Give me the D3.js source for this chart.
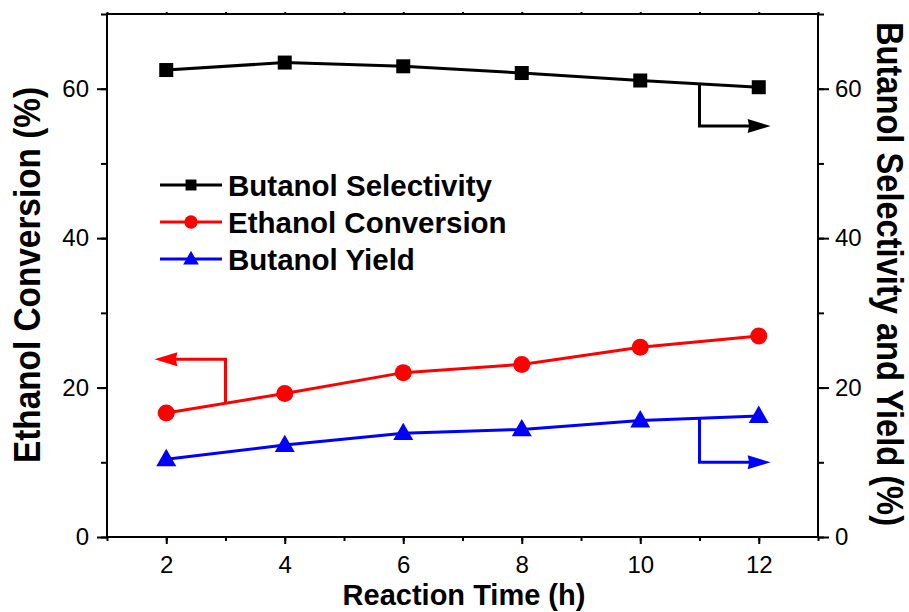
<!DOCTYPE html>
<html><head><meta charset="utf-8">
<script src="https://cdn.jsdelivr.net/npm/d3@7"></script>
<style>
html,body{margin:0;padding:0;background:#fff;}
svg text{font-family:"Liberation Sans",Arial,Helvetica,sans-serif;}
</style></head>
<body><svg id="c" width="909" height="612"></svg>
<script>
const hours = [2, 4, 6, 8, 10, 12];
const butanolSelectivity = [62.5, 63.5, 63.0, 62.1, 61.1, 60.2];
const ethanolConversion = [16.6, 19.2, 22.0, 23.1, 25.4, 26.9];
const butanolYield = [10.4, 12.3, 13.9, 14.4, 15.6, 16.2];
const xTicks = [2, 4, 6, 8, 10, 12];
const yTicks = [0, 20, 40, 60];
const seriesNames = ["Butanol Selectivity", "Ethanol Conversion", "Butanol Yield"];

const svg = d3.select("#c");
const L = 107, R = 818, T = 14, B = 537;
const x = d3.scaleLinear().domain([1, 13]).range([L, R]);
const y = d3.scaleLinear().domain([0, 70]).range([B, T]);

const series = [
  {name: seriesNames[0], vals: butanolSelectivity, color: "#000000", sym: "square", size: 14},
  {name: seriesNames[1], vals: ethanolConversion, color: "#ff0000", sym: "circle", size: 17},
  {name: seriesNames[2], vals: butanolYield, color: "#0000ff", sym: "triangle", size: 20}
];

function marker(g, type, cx, cy, s, color) {
  if (type === "square") {
    g.append("rect").attr("x", cx - s/2).attr("y", cy - s/2).attr("width", s).attr("height", s).attr("fill", color);
  } else if (type === "circle") {
    g.append("circle").attr("cx", cx).attr("cy", cy).attr("r", s/2).attr("fill", color);
  } else {
    const h = s * 0.87;
    g.append("path").attr("d", `M${cx},${cy - h*0.6}L${cx + s/2},${cy + h*0.4}L${cx - s/2},${cy + h*0.4}Z`).attr("fill", color);
  }
}

// Axes
const axStyle = g => {
  g.attr("font-size", null).attr("font-family", null);
  g.select(".domain").remove();
  g.selectAll(".tick line").attr("stroke", "#000").attr("stroke-width", 2);
  g.selectAll(".tick text").style("font-size", "24px").attr("fill", "#000");
};
// bottom minor
svg.append("g").attr("transform", `translate(0,${B})`)
  .call(d3.axisBottom(x).tickValues(d3.range(1, 14, 1)).tickSize(4).tickFormat(""))
  .call(axStyle);
svg.append("g").attr("transform", `translate(0,${B})`)
  .call(d3.axisBottom(x).tickValues(xTicks).tickSize(7).tickPadding(12))
  .call(axStyle);
// top ticks
svg.append("g").attr("transform", `translate(0,${T})`)
  .call(d3.axisTop(x).tickValues(d3.range(1, 14, 1)).tickSize(2).tickFormat(""))
  .call(axStyle);
// left
svg.append("g").attr("transform", `translate(${L},0)`)
  .call(d3.axisLeft(y).tickValues(d3.range(0, 71, 10)).tickSize(6).tickFormat(""))
  .call(axStyle);
svg.append("g").attr("transform", `translate(${L},0)`)
  .call(d3.axisLeft(y).tickValues(yTicks).tickSize(10).tickPadding(8))
  .call(axStyle);
// right
svg.append("g").attr("transform", `translate(${R},0)`)
  .call(d3.axisRight(y).tickValues(d3.range(0, 71, 10)).tickSize(6).tickFormat(""))
  .call(axStyle);
svg.append("g").attr("transform", `translate(${R},0)`)
  .call(d3.axisRight(y).tickValues(yTicks).tickSize(11).tickPadding(6))
  .call(axStyle);

// frame
svg.append("rect").attr("x", L).attr("y", T).attr("width", R - L).attr("height", B - T)
  .attr("fill", "none").attr("stroke", "#000").attr("stroke-width", 2);

// series
const line = d3.line().x((d, i) => x(hours[i])).y(d => y(d));
series.forEach(s => {
  svg.append("path").attr("d", line(s.vals)).attr("fill", "none")
    .attr("stroke", s.color).attr("stroke-width", 3);
  const g = svg.append("g");
  s.vals.forEach((v, i) => marker(g, s.sym, x(hours[i]), y(v), s.size, s.color));
});

// axis-pointing arrows (data coordinates)
const arrows = [
  {color: "#000000", vals: butanolSelectivity, xs: 11, yEnd: 55, xEnd: 12.2},
  {color: "#ff0000", vals: ethanolConversion, xs: 3, yEnd: 23.8, xEnd: 1.8},
  {color: "#0000ff", vals: butanolYield, xs: 11, yEnd: 10, xEnd: 12.2}
];
arrows.forEach(a => {
  const i = hours.findIndex(h => h > a.xs);
  const t = (a.xs - hours[i-1]) / (hours[i] - hours[i-1]);
  const vStart = a.vals[i-1] + t * (a.vals[i] - a.vals[i-1]);
  const px = x(a.xs), py0 = y(vStart), py1 = y(a.yEnd), pxe = x(a.xEnd);
  const dir = Math.sign(pxe - px);
  const headLen = 23, headHalf = 7;
  svg.append("path")
    .attr("d", `M${px},${py0}L${px},${py1}L${pxe - dir*headLen + dir*3},${py1}`)
    .attr("fill", "none").attr("stroke", a.color).attr("stroke-width", 3)
    .attr("stroke-linejoin", "miter");
  svg.append("path")
    .attr("d", `M${pxe},${py1}L${pxe - dir*headLen},${py1 - headHalf}L${pxe - dir*headLen*0.93},${py1}L${pxe - dir*headLen},${py1 + headHalf}Z`)
    .attr("fill", a.color);
});

// legend
const lg = svg.append("g");
const legY = [185, 222, 259];
series.forEach((s, k) => {
  lg.append("line").attr("x1", 160).attr("x2", 222).attr("y1", legY[k]).attr("y2", legY[k])
    .attr("stroke", s.color).attr("stroke-width", 3);
  marker(lg, s.sym, 191, legY[k], s.size * 0.78, s.color);
  lg.append("text").attr("x", 228).attr("y", legY[k] + 10.5).style("font-size", "29.5px")
    .attr("font-weight", "bold").attr("fill", "#000").text(s.name);
});

// axis titles
svg.append("text").attr("x", 464).attr("y", 605).attr("text-anchor", "middle")
  .style("font-size", "29px").attr("font-weight", "bold").text("Reaction Time (h)");
svg.append("text").attr("transform", `translate(40,275) rotate(-90)`).attr("text-anchor", "middle")
  .style("font-size", "37px").attr("font-weight", "bold")
  .attr("textLength", 376).attr("lengthAdjust", "spacingAndGlyphs")
  .text("Ethanol Conversion (%)");
svg.append("text").attr("transform", `translate(877,274) rotate(90)`).attr("text-anchor", "middle")
  .style("font-size", "37px").attr("font-weight", "bold")
  .attr("textLength", 504).attr("lengthAdjust", "spacingAndGlyphs")
  .text("Butanol Selectivity and Yield (%)");
</script></body></html>
